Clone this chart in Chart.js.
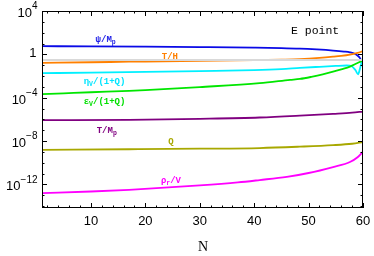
<!DOCTYPE html>
<html><head><meta charset="utf-8">
<script src="https://cdn.jsdelivr.net/npm/chart.js@4/dist/chart.umd.min.js"></script>
<style>html,body{margin:0;padding:0;background:#fff;}#wrap{width:374px;height:256px;position:relative;}</style>
</head><body><div id="wrap"><canvas id="c" width="374" height="256"></canvas></div>
<script>
// ---- data ----
const psiN = [1, 10, 20, 30, 40, 45, 48.4, 51.5, 54.5, 56.5, 57.6, 58.5, 59.1, 59.45, 59.65, 59.78];
const psiV = [5.62, 5.50, 5.13, 4.68, 4.17, 3.80, 3.39, 2.82, 2.24, 1.82, 1.55, 1.15, 0.708, 0.447, 0.282, 0.158];

const THN = [1, 10, 17, 20, 30, 40, 45, 48.4, 52, 54.5, 56, 57.6, 59, 60];
const THV = [0.162, 0.186, 0.209, 0.219, 0.251, 0.288, 0.324, 0.363, 0.468, 0.603, 0.724, 0.955, 1.38, 1.95];

const etaN = [1, 10, 20, 30, 40, 45, 48.4, 52, 55, 57, 58, 58.6, 59.1, 59.45, 59.8];
const etaV = [0.0182, 0.0204, 0.024, 0.0288, 0.0355, 0.0437, 0.0562, 0.0708, 0.0851, 0.0933, 0.0759, 0.0355, 0.0145, 0.0501, 0.24];

const epsN = [1, 5, 10, 17, 20, 30, 41, 46.6, 48.4, 50.5, 52.6, 54.5, 56, 57.6, 58.8, 59.8];
const epsV = [2.09e-4, 2.51e-4, 3.16e-4, 4.27e-4, 5.01e-4, 9.55e-4, 2.19e-3, 4.37e-3, 5.37e-3, 8.32e-3, 1.41e-2, 2.51e-2, 4.17e-2, 7.41e-2, 0.141, 0.251];

const TMpN = [1, 17, 30, 41, 48.4, 54.5, 58, 60];
const TMpV = [8.5e-7, 9.1e-7, 1.12e-6, 1.48e-6, 2.19e-6, 3.24e-6, 4.17e-6, 5.25e-6];

const QN = [1, 17, 30, 41, 48.4, 54.5, 58, 60];
const QV = [1.55e-9, 1.74e-9, 1.95e-9, 2.24e-9, 3.02e-9, 4.17e-9, 5.62e-9, 7.94e-9];

const rhoN = [1, 10, 17, 30, 37, 41, 46, 50, 54.5, 57.6, 59, 60];
const rhoV = [1.58e-13, 2.19e-13, 3.16e-13, 7.94e-13, 1.51e-12, 2.51e-12, 5.01e-12, 1.12e-11, 3.98e-11, 1.15e-10, 3.16e-10, 1.07e-9];

const refN = [1, 60];
const refV = [0.305, 0.305];

const xTicks = [10, 20, 30, 40, 50, 60];
const yTickExp = [4, 0, -4, -8, -12];

// curve labels: [main, subscript, rest, N, value, color]
const curveLabels = [
  ['ψ/M', 'p', '', 12.7, 21.4, '#1a1ae6'],
  ['T/H', '', '', 24.5, 0.575, '#ff8000'],
  ['η', 'V', '/(1+Q)', 12.5, 2.9e-3, '#00e5ff'],
  ['ε', 'V', '/(1+Q)', 12.5, 4.1e-5, '#00e000'],
  ['T/M', 'p', '', 12.9, 8.7e-8, '#800080'],
  ['Q', '', '', 24.7, 8.5e-9, '#a8a800'],
  ['ρ', 'r', '/V', 24.7, 2.1e-12, '#ff00ff']
];
const cornerLabel = ['E point', 51.2, 145];

function pts(ns, vs){ return ns.map((n,i)=>({x:n, y:vs[i]})); }
function ds(ns, vs, color, w){
  return {data: pts(ns, vs), borderColor: color, borderWidth: w || 1.8, pointRadius: 0,
          fill: false, cubicInterpolationMode: 'monotone'};
}

const framePlugin = {
  id: 'frame',
  afterDatasetsDraw(chart){
    const {ctx, chartArea: a, scales: {x, y}} = chart;
    ctx.save();
    ctx.strokeStyle = '#000'; ctx.lineWidth = 1;
    const L = (x1,y1,x2,y2)=>{ctx.beginPath();ctx.moveTo(x1,y1);ctx.lineTo(x2,y2);ctx.stroke();};
    // x ticks (inward, top and bottom)
    for (let n = 2; n <= 60; n += 2){
      const px = Math.round(x.getPixelForValue(n)) + 0.5;
      const len = (n % 10 === 0) ? 5 : 2.5;
      L(px, a.bottom, px, a.bottom - len);
      L(px, a.top, px, a.top + len);
    }
    // y ticks (every decade)
    for (let e = -14; e <= 4; e++){
      const py = Math.round(y.getPixelForValue(Math.pow(10, e))) + 0.5;
      const len = (e % 4 === 0) ? 5 : 2.5;
      L(a.left, py, a.left + len, py);
      L(a.right, py, a.right - len, py);
    }
    // frame
    const l = Math.round(a.left)+0.5, r = Math.round(a.right)-0.5, t = Math.round(a.top)+0.5, b = Math.round(a.bottom)-0.5;
    ctx.strokeRect(l, t, r - l, b - t);

    // x tick labels
    ctx.fillStyle = '#000';
    ctx.font = '13px "Liberation Sans", Arial, sans-serif';
    ctx.textAlign = 'center'; ctx.textBaseline = 'middle';
    xTicks.forEach(v => ctx.fillText(String(v), x.getPixelForValue(v), 221));
    // x title
    ctx.font = '14px "Liberation Serif", "Times New Roman", serif';
    ctx.fillText('N', (a.left + a.right)/2 + 0.5, 247);

    // y tick labels
    const rightX = 37.5;
    yTickExp.forEach(e => {
      const py = y.getPixelForValue(Math.pow(10, e));
      ctx.textBaseline = 'middle';
      if (e === 0){
        ctx.font = '13px "Liberation Sans", Arial, sans-serif';
        ctx.textAlign = 'right';
        ctx.fillText('1', rightX - 1, py - 1);
        return;
      }
      const sup = (e < 0 ? '\u2212' : '') + Math.abs(e);
      ctx.font = '10px "Liberation Sans", Arial, sans-serif';
      const sw = ctx.measureText(sup).width;
      ctx.textAlign = 'left';
      ctx.fillText(sup, rightX - sw, py - 4.5);
      ctx.font = '13px "Liberation Sans", Arial, sans-serif';
      ctx.textAlign = 'right';
      ctx.fillText('10', rightX - sw, py + 2.5);
    });

    // curve labels
    curveLabels.forEach(([m, s, rest, n, v, col]) => {
      const cx = x.getPixelForValue(n), cy = y.getPixelForValue(v);
      const mf = 'bold 9px "Liberation Mono", "Courier New", monospace';
      const sf = 'bold 6.5px "Liberation Mono", "Courier New", monospace';
      ctx.font = mf; const w1 = ctx.measureText(m).width, w3 = ctx.measureText(rest).width;
      ctx.font = sf; const w2 = s ? ctx.measureText(s).width : 0;
      let px = cx - (w1 + w2 + w3)/2;
      ctx.fillStyle = col; ctx.textAlign = 'left'; ctx.textBaseline = 'middle';
      ctx.font = mf; ctx.fillText(m, px, cy); px += w1;
      if (s){ ctx.font = sf; ctx.fillText(s, px, cy + 2.5); px += w2; }
      if (rest){ ctx.font = mf; ctx.fillText(rest, px, cy); }
    });
    // corner label
    ctx.fillStyle = '#000';
    ctx.font = '11.5px "Liberation Mono", "Courier New", monospace';
    ctx.textAlign = 'center'; ctx.textBaseline = 'middle';
    ctx.fillText(cornerLabel[0], x.getPixelForValue(cornerLabel[1]), y.getPixelForValue(cornerLabel[2]));
    ctx.restore();
  }
};

new Chart(document.getElementById('c'), {
  type: 'line',
  data: {
    datasets: [
      ds(refN, refV, '#d9d9d9', 2),
      ds(rhoN, rhoV, '#ff00ff'),
      ds(QN, QV, '#a8a800'),
      ds(TMpN, TMpV, '#800080'),
      ds(epsN, epsV, '#00e600'),
      ds(etaN, etaV, '#00f0ff'),
      ds(THN, THV, '#ff8000'),
      ds(psiN, psiV, '#0a0ae6')
    ]
  },
  options: {
    responsive: false,
    animation: false,
    devicePixelRatio: 1,
    layout: {padding: {left: 42, top: 11, right: 11, bottom: 48}},
    plugins: {legend: {display: false}, tooltip: {enabled: false}},
    scales: {
      x: {type: 'linear', min: 1, max: 60, display: false},
      y: {type: 'logarithmic', min: 6.6e-15, max: 1e4, display: false}
    }
  },
  plugins: [framePlugin]
});
</script></body></html>
